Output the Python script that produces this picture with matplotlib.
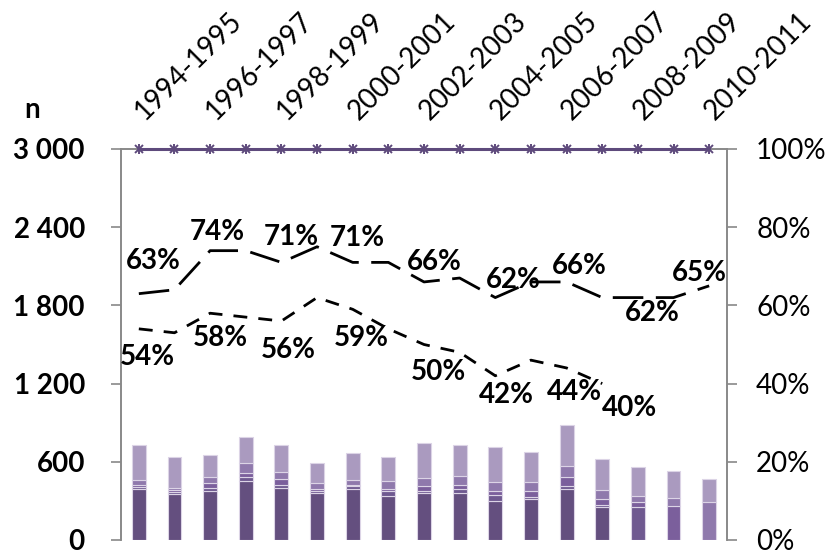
import matplotlib.pyplot as plt
import numpy as np

plt.rcParams['font.family'] = ['Lato', 'DejaVu Sans']

periods = ["1994-1995", "1995-1996", "1996-1997", "1997-1998", "1998-1999",
           "1999-2000", "2000-2001", "2001-2002", "2002-2003", "2003-2004",
           "2004-2005", "2005-2006", "2006-2007", "2007-2008", "2008-2009",
           "2009-2010", "2010-2011"]

# stacked bar layers (n), bottom to top
layer1 = [390, 354, 377, 454, 402, 359, 390, 341, 359, 359, 300, 313, 392, 251, 0, 0, 0]
layer2 = [20, 15, 25, 28, 21, 18, 21, 36, 18, 32, 45, 15, 25, 17, 251, 0, 0]
layer3 = [13, 15, 38, 31, 44, 13, 13, 16, 40, 31, 31, 48, 65, 44, 43, 264, 0]
layer4 = [38, 18, 42, 77, 58, 46, 38, 56, 62, 72, 72, 72, 89, 72, 44, 62, 295]
layer5 = [269, 234, 171, 200, 205, 154, 205, 188, 265, 234, 265, 231, 308, 236, 221, 200, 172]

# percentage series (right axis)
upper_pct = [63, 64, 74, 74, 71, 75, 71, 71, 66, 67, 62, 66, 66, 62, 62, 62, 65]
lower_pct = [54, 53, 58, 57, 56, 62, 59, 54, 50, 48, 42, 46, 44, 40]
total_pct = [100] * 17

left_ticks = [0, 600, 1200, 1800, 2400, 3000]
left_labels = ["0", "600", "1 200", "1 800", "2 400", "3 000"]
right_ticks = [0, 20, 40, 60, 80, 100]
right_labels = ["0%", "20%", "40%", "60%", "80%", "100%"]

# which points get a label, and where (pixel offsets)
upper_lab_idx = [0, 2, 4, 6, 8, 10, 12, 14, 16]
upper_lab_off = [(14, 33), (7, 19), (10, 25), (5, 24), (10, 20), (18, 18), (13, 16), (14, -15), (-10, 13)]
lower_lab_idx = [0, 2, 4, 6, 8, 10, 12, 13]
lower_lab_off = [(9, -28), (10, -25), (7, -29), (9, -29), (14, -28), (11, -19), (8, -24), (27, -24)]

colors = ['#644F7F', '#6F5990', '#7B5F9C', '#8F79AC', '#AA9ABF']
grey = '#898989'

fig = plt.figure(figsize=(8.27, 5.55), dpi=100)
ax = fig.add_axes([121 / 827, 15 / 555, 606 / 827, 391 / 555])
x = np.arange(len(periods))

bottom = np.zeros(len(periods))
for vals, col in zip([layer1, layer2, layer3, layer4, layer5], colors):
    ax.bar(x, vals, bottom=bottom, width=0.39, color=col,
           edgecolor='#DCD4E6', linewidth=0.8)
    bottom += np.array(vals)

ax.set_xlim(-0.5, len(periods) - 0.5)
ax.set_ylim(0, 3000)
ax.set_yticks(left_ticks)
ax.set_yticklabels(left_labels, fontsize=20, fontweight='bold')

ax.xaxis.tick_top()
ax.set_xticks(x[::2])
ax.set_xticklabels(periods[::2], fontsize=20, rotation=45,
                   ha='left', va='center', rotation_mode='anchor')
ax.tick_params(axis='x', length=0, pad=24)
ax.tick_params(axis='y', direction='out', length=7, width=1.2,
               color=grey, pad=19)

ax2 = ax.twinx()
ax2.set_ylim(0, 100)
ax2.set_yticks(right_ticks)
ax2.set_yticklabels(right_labels, fontsize=20)
ax2.tick_params(axis='y', direction='out', length=7, width=1.2,
                color=grey, pad=14)

for a in (ax, ax2):
    for side in ('left', 'right', 'top'):
        a.spines[side].set_color(grey)
        a.spines[side].set_linewidth(1.2)
    a.spines['bottom'].set_visible(False)

ax2.plot(x, total_pct, color='#5E4A7C', lw=2.2, clip_on=False, zorder=5)
ax2.plot(x, total_pct, ls='none', marker='x', ms=6, mew=1.4,
         color='#5E4A7C', clip_on=False, zorder=6)
ax2.plot(x, total_pct, ls='none', marker='|', ms=7, mew=1.4,
         color='#5E4A7C', clip_on=False, zorder=6)

ax2.plot(x, upper_pct, color='black', lw=2, linestyle=(0, (11, 4.5)))
ax2.plot(x[:len(lower_pct)], lower_pct, color='black', lw=2,
         linestyle=(0, (5, 4)))

for i, (dx, dy) in zip(upper_lab_idx, upper_lab_off):
    ax2.annotate(f"{upper_pct[i]}%", (x[i], upper_pct[i]), xytext=(dx, dy),
                 textcoords='offset pixels', ha='center', va='center',
                 fontsize=20, fontweight='bold')
for i, (dx, dy) in zip(lower_lab_idx, lower_lab_off):
    ax2.annotate(f"{lower_pct[i]}%", (x[i], lower_pct[i]), xytext=(dx, dy),
                 textcoords='offset pixels', ha='center', va='center',
                 fontsize=20, fontweight='bold')

fig.text(32 / 827, 1 - 110 / 555, "n", fontsize=20, fontweight='bold',
         ha='center', va='center')

fig.savefig('out.png', dpi=100)
